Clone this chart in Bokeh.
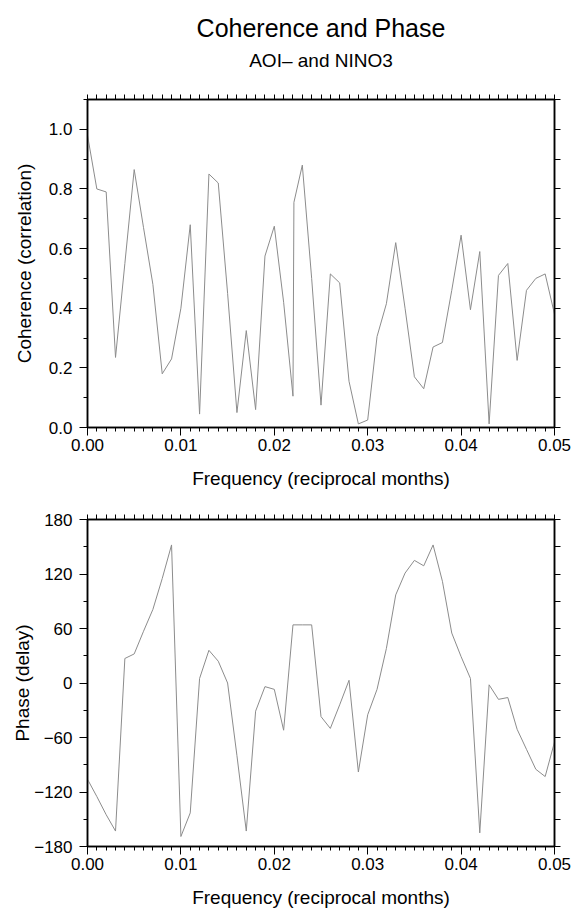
from bokeh.plotting import figure
from bokeh.models import (LinearAxis, SingleIntervalTicker, FixedTicker, Range1d,
                          NumeralTickFormatter, CustomJSTickFormatter)
from bokeh.core.properties import value
from bokeh.layouts import column
from bokeh.embed import file_html
from bokeh.resources import INLINE

# ---------------- data ----------------
freq = [0.000, 0.001, 0.002, 0.003, 0.004, 0.005, 0.006, 0.007, 0.008, 0.009,
        0.010, 0.011, 0.012, 0.013, 0.014, 0.015, 0.016, 0.017, 0.018, 0.019,
        0.020, 0.021, 0.022, 0.023, 0.024, 0.025, 0.026, 0.027, 0.028, 0.029,
        0.030, 0.031, 0.032, 0.033, 0.034, 0.035, 0.036, 0.037, 0.038, 0.039,
        0.040, 0.041, 0.042, 0.043, 0.044, 0.045, 0.046, 0.047, 0.048, 0.049,
        0.050]

coh_freq = [0.000, 0.001, 0.002, 0.003, 0.004, 0.005, 0.006, 0.007, 0.008, 0.009,
            0.010, 0.011, 0.012, 0.013, 0.014, 0.015, 0.016, 0.017, 0.018, 0.019,
            0.020, 0.021, 0.022, 0.0221, 0.023, 0.024, 0.025, 0.026, 0.027, 0.028,
            0.029, 0.030, 0.031, 0.032, 0.033, 0.034, 0.035, 0.036, 0.037, 0.038,
            0.039, 0.040, 0.041, 0.042, 0.043, 0.044, 0.045, 0.046, 0.047, 0.048,
            0.049, 0.050]

coherence = [0.98, 0.80, 0.79, 0.235, 0.55, 0.865, 0.67, 0.48, 0.18, 0.23,
             0.40, 0.68, 0.045, 0.85, 0.82, 0.45, 0.05, 0.325, 0.06, 0.575,
             0.675, 0.42, 0.105, 0.755, 0.88, 0.50, 0.075, 0.515, 0.485, 0.155,
             0.012, 0.025, 0.305, 0.415, 0.62, 0.40, 0.17, 0.13, 0.27, 0.285,
             0.46, 0.645, 0.395, 0.59, 0.012, 0.51, 0.55, 0.225, 0.46, 0.50,
             0.515, 0.38]

phase = [-106, -125, -145, -163, 27, 32, 57, 81, 115, 152,
         -169, -143, 5, 36, 24, 0, -80, -163, -31, -4,
         -7, -52, 64, 64, 64, -37, -50, -24, 3, -98,
         -35, -7, 38, 97, 121, 135, 129, 152, 112, 55,
         29, 5, -165, -2, -18, -16, -51, -73, -95, -103,
         -65]

title_text = "Coherence and Phase"
subtitle_text = "AOI\u2013 and NINO3"
x_label = "Frequency (reciprocal months)"
y1_label = "Coherence (correlation)"
y2_label = "Phase (delay)"

FONT = "Liberation Sans"
LINE_COLOR = "#8c8c8c"
W = 574
LEFT, RIGHT = 87, 20
TITLE_H = 75
X_START, X_END = 0.0, 0.05


def style_axis(ax, ticker):
    ax.ticker = ticker
    ax.axis_line_width = 1.5
    ax.axis_line_color = "black"
    ax.major_tick_out = 8
    ax.major_tick_in = 0
    ax.minor_tick_out = 4
    ax.minor_tick_in = 0
    ax.major_tick_line_color = "black"
    ax.minor_tick_line_color = "black"
    ax.major_tick_line_width = 1
    ax.minor_tick_line_width = 1
    ax.major_label_text_font = FONT
    ax.major_label_text_font_size = "17px"
    ax.major_label_text_color = "black"
    ax.axis_label_text_font = FONT
    ax.axis_label_text_font_size = "19px"
    ax.axis_label_text_font_style = "normal"
    ax.axis_label_text_color = "black"


def make_panel(height, top_border, y_start, y_end, y_interval, y_fmt,
               y_label, y_label_standoff):
    p = figure(width=W, height=height,
               x_range=Range1d(X_START, X_END), y_range=Range1d(y_start, y_end),
               x_axis_type=None, y_axis_type=None,
               output_backend="svg", toolbar_location=None,
               min_border_left=LEFT, min_border_right=RIGHT,
               min_border_top=top_border, min_border_bottom=70)
    p.title = None
    p.grid.visible = False
    p.outline_line_color = "black"
    p.outline_line_width = 1.5
    p.background_fill_color = "white"
    p.border_fill_color = "white"

    xb = LinearAxis(axis_label=x_label)
    style_axis(xb, SingleIntervalTicker(interval=0.01, num_minor_ticks=10))
    xb.formatter = NumeralTickFormatter(format="0.00")
    xb.major_label_standoff = 3
    xb.axis_label_standoff = 14
    p.add_layout(xb, "below")

    yl = LinearAxis(axis_label=y_label)
    style_axis(yl, SingleIntervalTicker(interval=y_interval, num_minor_ticks=2))
    yl.formatter = y_fmt
    yl.major_label_standoff = 7
    yl.axis_label_standoff = y_label_standoff
    p.add_layout(yl, "left")

    # frame ticks on top and right (no labels)
    x_marks = [i * 0.001 for i in range(51)]
    n_y = int(round((y_end - y_start) / (y_interval / 2)))
    y_marks = [y_start + i * y_interval / 2 for i in range(n_y + 1)]

    xt = LinearAxis()
    style_axis(xt, FixedTicker(ticks=[], minor_ticks=x_marks))
    xt.minor_tick_out = 5
    xt.major_label_standoff = 0
    p.add_layout(xt, "above")

    yr = LinearAxis()
    style_axis(yr, FixedTicker(ticks=[], minor_ticks=y_marks))
    yr.minor_tick_out = 6
    yr.major_label_standoff = 0
    p.add_layout(yr, "right")
    return p


# ---------------- title block (frame is aligned with the panels' frames) ----------------
tfig = figure(width=W, height=TITLE_H, x_range=Range1d(X_START, X_END),
              y_range=Range1d(0, TITLE_H), x_axis_type=None, y_axis_type=None,
              output_backend="svg", toolbar_location=None,
              min_border=0, min_border_left=LEFT, min_border_right=RIGHT)
tfig.title = None
tfig.grid.visible = False
tfig.outline_line_color = None
title_x = (X_START + X_END) / 2
tfig.text(x=[title_x], y=[TITLE_H - 27], text=[title_text],
          text_font=value(FONT), text_font_size="25px", text_color="black",
          text_align="center", text_baseline="middle")
tfig.text(x=[title_x], y=[TITLE_H - 60], text=[subtitle_text],
          text_font=value(FONT), text_font_size="19px", text_color="black",
          text_align="center", text_baseline="middle")

# ---------------- panels ----------------
p1 = make_panel(497 - TITLE_H, 99 - TITLE_H, 0, 1.1, 0.2,
                NumeralTickFormatter(format="0.0"), y1_label, 11)
p1.line(coh_freq, coherence, line_color=LINE_COLOR, line_width=1)

phase_fmt = CustomJSTickFormatter(
    code="return tick < 0 ? '\\u2212' + Math.abs(tick) : tick.toString();")
p2 = make_panel(419, 22, -180, 180, 60, phase_fmt, y2_label, -2)
p2.line(freq, phase, line_color=LINE_COLOR, line_width=1)

layout = column(tfig, p1, p2, spacing=0)
open("out.html", "w").write(file_html(layout, INLINE))
